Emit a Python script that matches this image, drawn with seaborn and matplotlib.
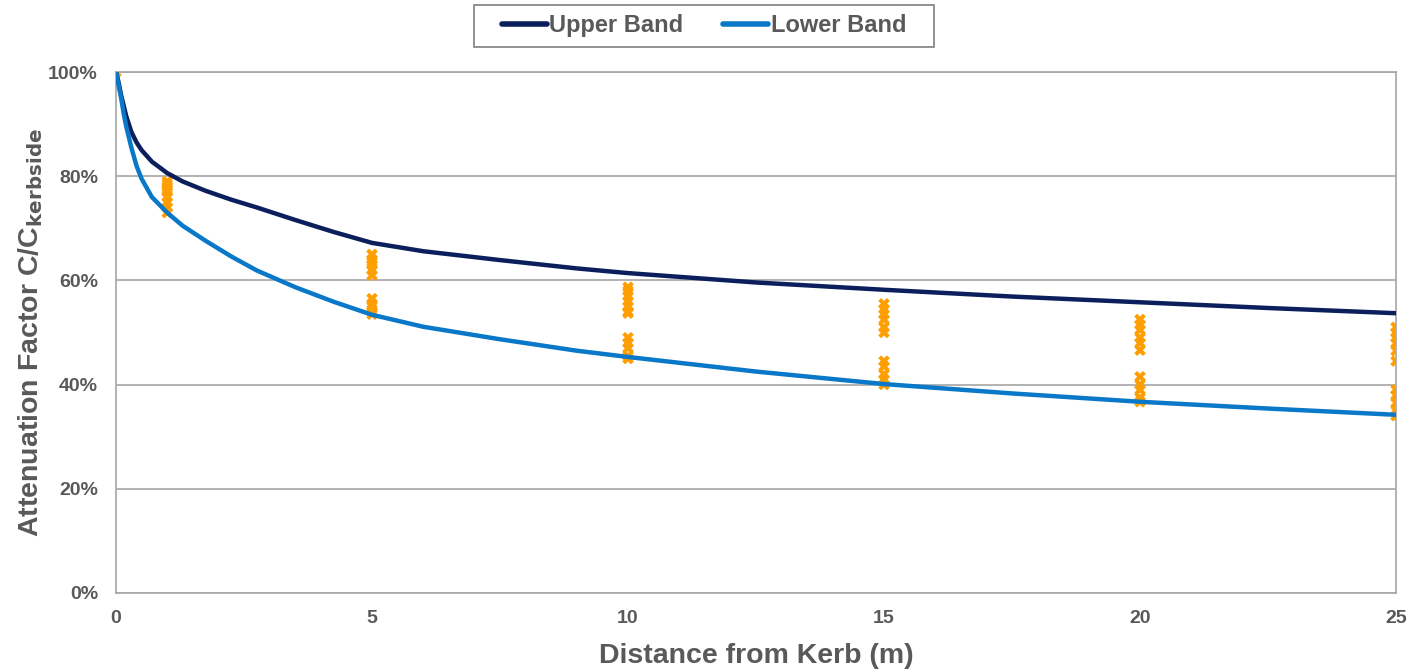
import matplotlib
matplotlib.use("Agg")
import matplotlib.pyplot as plt
import seaborn as sns
import pandas as pd
from matplotlib.patches import Rectangle
from matplotlib.ticker import PercentFormatter

# Band curves
band_x = [0, 0.05, 0.1, 0.15, 0.2, 0.3, 0.4, 0.5, 0.7, 1, 1.3, 1.75, 2.25, 2.75, 3.5,
          4.25, 5, 6, 7.5, 9, 10, 12.5, 15, 17.5, 20, 22.5, 25]
upper_band = [100, 98, 95.5, 93.5, 91.5, 88.5, 86.5, 85, 82.8, 80.6, 79, 77.2, 75.5, 74, 71.6,
              69.3, 67.2, 65.6, 63.9, 62.3, 61.4, 59.6, 58.2, 56.9, 55.8, 54.7, 53.7]
lower_band = [100, 97.5, 95, 92, 89.5, 85.5, 82, 79.5, 76, 73, 70.5, 67.6, 64.6, 61.9, 58.7,
              55.9, 53.4, 51.1, 48.7, 46.5, 45.3, 42.5, 40.1, 38.3, 36.7, 35.4, 34.2]

# Measured points
obs_x = ([0] + [1] * 9 + [5] * 11 + [10] * 12 + [15] * 11 + [20] * 11 + [25] * 11)
obs_y = ([100]
         + [79, 78.5, 78, 77.5, 77, 76, 75, 74, 73]
         + [65, 64, 63.5, 63, 62, 61, 56.5, 55.5, 55, 54, 53.5]
         + [58.7, 58, 57, 56, 55, 54, 53.7, 49, 48, 47, 45.5, 45]
         + [55.5, 54.5, 53.5, 52.5, 51, 50, 44.5, 43.5, 42, 41, 40]
         + [52.5, 51.5, 50.5, 49, 48, 46.6, 41.5, 40, 39, 37.5, 36.7]
         + [51, 50, 49, 48, 46.5, 44.5, 39, 38, 36.5, 35, 34])

sns.set_theme(style="white")
plt.rcParams['font.family'] = ['Liberation Sans', 'DejaVu Sans']

fig = plt.figure(figsize=(14.08, 6.70), dpi=100)
ax = fig.add_axes([0.0824, 0.115, 0.9091, 0.7775])

bands = pd.DataFrame({"x": band_x, "Upper Band": upper_band, "Lower Band": lower_band})
obs = pd.DataFrame({"x": obs_x, "y": obs_y})

sns.scatterplot(data=obs, x="x", y="y", ax=ax, marker="X", s=70, color="#FF9E00",
                edgecolor="none", zorder=3, legend=False)
sns.lineplot(data=bands, x="x", y="Upper Band", ax=ax, color="#0B1F5C", lw=3.2,
             label="Upper Band", zorder=4, solid_joinstyle="round", solid_capstyle="round")
sns.lineplot(data=bands, x="x", y="Lower Band", ax=ax, color="#0A78C8", lw=3.2,
             label="Lower Band", zorder=4, solid_joinstyle="round", solid_capstyle="round")

ax.set_xlim(0, 25)
ax.set_ylim(0, 100)
ax.set_xticks([0, 5, 10, 15, 20, 25])
ax.set_yticks([0, 20, 40, 60, 80, 100])
ax.yaxis.set_major_formatter(PercentFormatter(decimals=0))
ax.grid(axis="y", color="#A6A6A6", lw=1.2)
ax.set_axisbelow(True)
for s in ax.spines.values():
    s.set_color("#A6A6A6")
    s.set_linewidth(1.2)

ax.tick_params(axis="y", labelsize=14, colors="#595959", length=0, pad=13)
ax.tick_params(axis="x", labelsize=14, colors="#595959", length=0, pad=12)
for lab in ax.get_xticklabels() + ax.get_yticklabels():
    lab.set_fontweight("bold")

ax.set_xlabel("Distance from Kerb (m)", fontsize=20.5, fontweight="bold", color="#595959", labelpad=12)
ax.set_ylabel("Attenuation Factor C/C$_{\\mathbf{kerbside}}$", fontsize=20.5, fontweight="bold",
              color="#595959", labelpad=2)

handles, labels = ax.get_legend_handles_labels()
if ax.get_legend():
    ax.get_legend().remove()
leg = fig.legend(handles, labels, loc="upper center", bbox_to_anchor=(0.5, 0.993), ncol=2,
                 frameon=False, handlelength=1.9, handletextpad=0.1, columnspacing=1.7,
                 borderpad=0.4, borderaxespad=0, prop={"size": 17, "weight": "bold"})
for t in leg.get_texts():
    t.set_color("#595959")
for h in leg.get_lines():
    h.set_linewidth(4)

# wider legend frame (extra horizontal padding like the original)
fig.canvas.draw()
bb = leg.get_window_extent().transformed(fig.transFigure.inverted())
padx = 18 / fig.bbox.width
fig.patches.append(Rectangle((bb.x0 - padx, bb.y0), bb.width + 2 * padx, bb.height,
                             transform=fig.transFigure, fill=False, edgecolor="#7F7F7F",
                             linewidth=1.2))

fig.savefig("out.png", dpi=100)
